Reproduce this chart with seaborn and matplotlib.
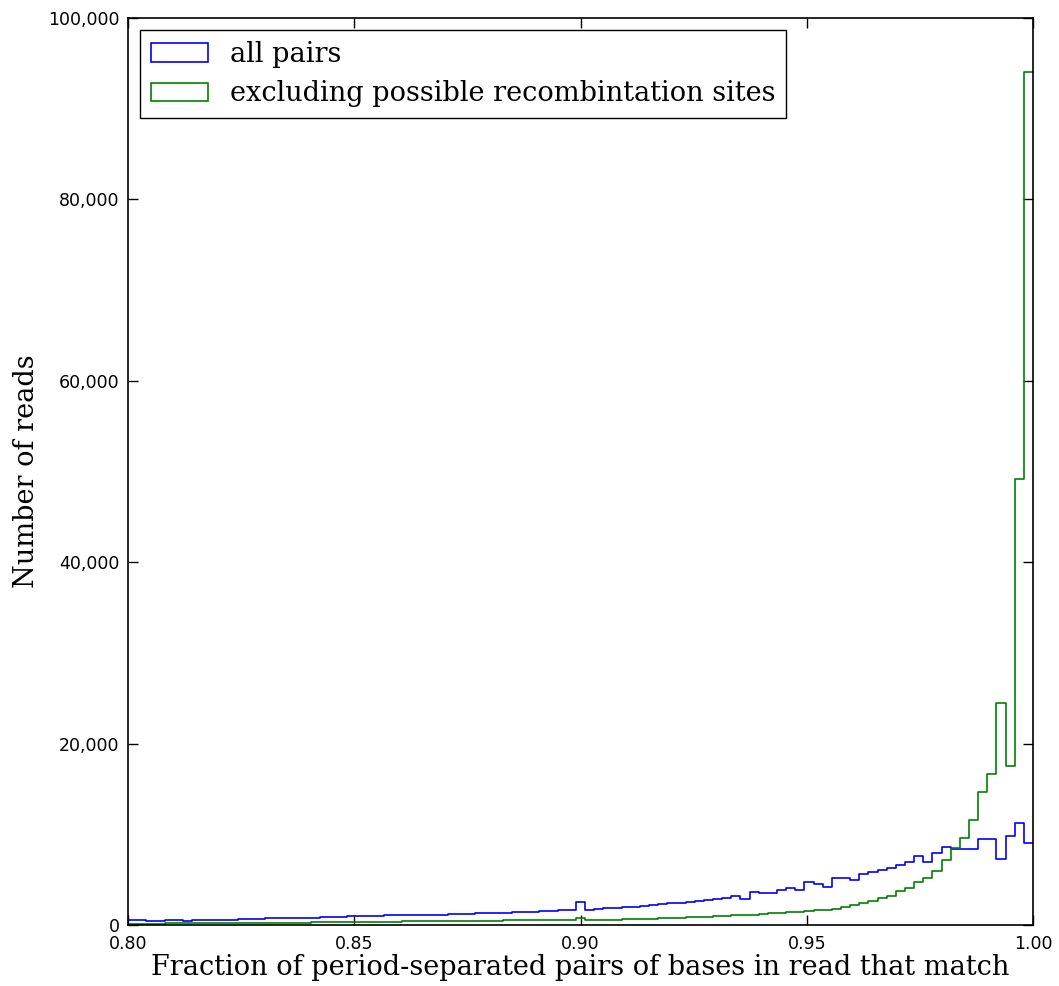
import numpy as np
import pandas as pd
import matplotlib
matplotlib.use("Agg")
import matplotlib.pyplot as plt
from matplotlib.patches import Patch
from matplotlib.ticker import FuncFormatter
import seaborn as sns

# Histogram range and number of bins
bin_lo, bin_hi, n_bins = 0.80, 1.00, 99

series_labels = ["all pairs", "excluding possible recombintation sites"]
series_colors = ["#0000ff", "#008000"]

# Reads per bin, all period-separated pairs
all_pairs = [
    600, 500, 450, 450, 500, 500, 400, 550, 550, 580,
    600, 600, 620, 640, 660, 720, 730, 750, 770, 800,
    820, 860, 880, 920, 950, 970, 1000, 1020, 1050, 1050,
    1070, 1100, 1120, 1130, 1150, 1180, 1200, 1230, 1270, 1300,
    1330, 1360, 1400, 1430, 1470, 1520, 1560, 1620, 1700, 2500,
    1700, 1750, 1820, 1880, 1950, 2020, 2100, 2200, 2300, 2400,
    2480, 2550, 2620, 2800, 2880, 2950, 3200, 2850, 3650, 3500,
    3500, 3850, 4100, 3850, 4700, 4550, 4150, 5150, 5150, 5000,
    5650, 5850, 6050, 6250, 6600, 6950, 7600, 6950, 7950, 8550,
    8350, 8350, 8350, 9450, 9450, 7250, 9800, 11250, 9050,
]

# Reads per bin, excluding possible recombination sites
excluding_sites = [
    150, 150, 160, 160, 170, 170, 180, 180, 190, 190,
    200, 200, 210, 210, 220, 230, 240, 250, 260, 270,
    280, 290, 300, 310, 320, 330, 340, 350, 360, 380,
    390, 400, 410, 420, 430, 440, 450, 460, 470, 480,
    490, 500, 505, 510, 515, 520, 520, 520, 530, 800,
    540, 560, 580, 600, 620, 640, 660, 690, 720, 760,
    800, 830, 860, 900, 950, 1000, 1050, 1100, 1150, 1200,
    1270, 1330, 1400, 1480, 1550, 1620, 1700, 1800, 1950, 2150,
    2400, 2700, 2950, 3250, 3750, 4050, 4750, 5150, 5950, 7150,
    8450, 9550, 11550, 14650, 16650, 24450, 17550, 49200, 94000,
]

x_ticks = [0.80, 0.85, 0.90, 0.95, 1.00]
y_ticks = [0, 20000, 40000, 60000, 80000, 100000]

sns.set_style("ticks")
plt.rcParams["font.family"] = ["DejaVu Sans"]
plt.rcParams["text.color"] = "black"

edges = np.linspace(bin_lo, bin_hi, n_bins + 1)
centers = (edges[:-1] + edges[1:]) / 2

fig = plt.figure(figsize=(10.59, 9.86), dpi=100)
ax = fig.add_axes([128 / 1059, 1 - 925 / 986, (1033 - 128) / 1059, (925 - 18) / 986])

for counts, color in zip([all_pairs, excluding_sites], series_colors):
    frame = pd.DataFrame({"fraction": centers, "reads": counts})
    sns.histplot(data=frame, x="fraction", weights="reads", bins=n_bins,
                 binrange=(bin_lo, bin_hi), element="step", fill=False,
                 color=color, linewidth=1.2, ax=ax)

ax.set_xlim(bin_lo, bin_hi)
ax.set_ylim(0, 100000)
ax.set_xticks(x_ticks)
ax.set_yticks(y_ticks)
ax.xaxis.set_major_formatter(FuncFormatter(lambda v, p: f"{v:.2f}"))
ax.yaxis.set_major_formatter(FuncFormatter(lambda v, p: f"{int(v):,}"))
ax.tick_params(which="major", direction="in", length=7, width=1, color="black",
               top=True, right=True, labelsize=12.5, labelcolor="black")
ax.tick_params(axis="x", pad=7)
ax.tick_params(axis="y", pad=6)
for sp in ax.spines.values():
    sp.set_visible(True)
    sp.set_color("black")
    sp.set_linewidth(1.2)
    sp.set_zorder(3)

label_font = dict(family="DejaVu Serif", size=19.5, color="black")
ax.set_xlabel("Fraction of period-separated pairs of bases in read that match",
              fontdict=label_font, labelpad=1)
ax.set_ylabel("Number of reads", fontdict=label_font, labelpad=6)

handles = [Patch(facecolor="none", edgecolor=c, linewidth=1.2) for c in series_colors]
leg = ax.legend(handles, series_labels, loc="upper left", frameon=True,
                fancybox=False, shadow=False, prop=dict(family="DejaVu Serif", size=19.5),
                handlelength=2.1, handleheight=0.65, handletextpad=0.8,
                labelspacing=0.45, borderpad=0.4, borderaxespad=0.45)
for t in leg.get_texts():
    t.set_color("black")
leg.get_frame().set_edgecolor("black")
leg.get_frame().set_linewidth(1.0)
leg.get_frame().set_alpha(1.0)

fig.savefig("out.png", dpi=100, facecolor="white")
